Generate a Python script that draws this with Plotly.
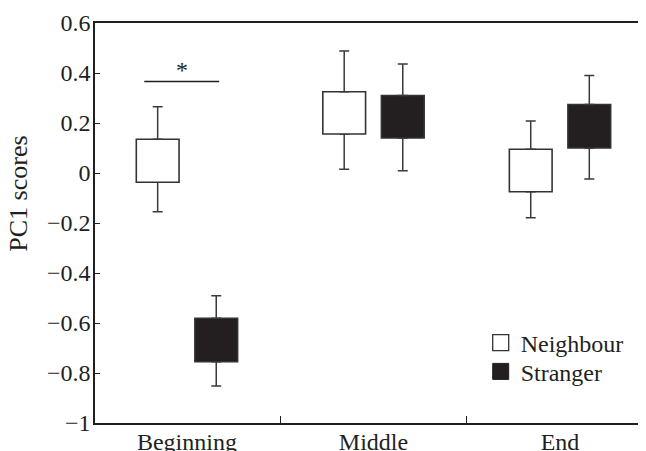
import plotly.graph_objects as go

phases = ["Beginning", "Middle", "End"]

neighbour_box_low = [-0.037, 0.156, -0.075]
neighbour_box_high = [0.135, 0.325, 0.095]
neighbour_whisker_low = [-0.155, 0.015, -0.179]
neighbour_whisker_high = [0.265, 0.488, 0.208]

stranger_box_low = [-0.755, 0.140, 0.100]
stranger_box_high = [-0.581, 0.310, 0.274]
stranger_whisker_low = [-0.852, 0.009, -0.024]
stranger_whisker_high = [-0.491, 0.436, 0.390]

y_tick_vals = [0.6, 0.4, 0.2, 0, -0.2, -0.4, -0.6, -0.8, -1]
y_tick_text = ["0.6", "0.4", "0.2", "0", "\u22120.2", "\u22120.4", "\u22120.6", "\u22120.8", "\u22121"]

sig_line_y = 0.366

DARK = "#231f20"
EDGE = "#333333"
WHISK = "#3a3a3a"
FONT = "Liberation Serif"


def add_series(name, low, high, wlow, whigh, fill, group):
    size = [h - l for l, h in zip(low, high)]
    up = [w - h for h, w in zip(high, whigh)]
    down = [l - w for l, w in zip(low, wlow)]
    zeros = [0 for _ in low]
    # invisible bar from box top down to box bottom, carrying the lower whisker
    fig.add_trace(go.Bar(
        x=phases, y=[-s for s in size], base=high, offsetgroup=group,
        marker=dict(color="rgba(0,0,0,0)", line=dict(width=0)),
        error_y=dict(type="data", symmetric=False, array=zeros, arrayminus=down,
                     color=WHISK, thickness=1.5, width=5),
        showlegend=False, hoverinfo="skip",
    ))
    # visible box carrying the upper whisker
    fig.add_trace(go.Bar(
        x=phases, y=size, base=low, offsetgroup=group, name=name,
        marker=dict(color=fill, line=dict(color=EDGE, width=1.6)),
        error_y=dict(type="data", symmetric=False, array=up, arrayminus=zeros,
                     color=WHISK, thickness=1.5, width=5),
        showlegend=False,
    ))


fig = go.Figure()
add_series("Neighbour", neighbour_box_low, neighbour_box_high,
           neighbour_whisker_low, neighbour_whisker_high, "white", "n")
add_series("Stranger", stranger_box_low, stranger_box_high,
           stranger_whisker_low, stranger_whisker_high, DARK, "s")

# legend entries (one legend each, to control the row spacing)
fig.add_trace(go.Scatter(
    x=[None], y=[None], mode="markers", name="Neighbour", legend="legend",
    marker=dict(symbol="square", size=16, color="white", line=dict(color=EDGE, width=1.3)),
))
fig.add_trace(go.Scatter(
    x=[None], y=[None], mode="markers", name="Stranger", legend="legend2",
    marker=dict(symbol="square", size=16, color=DARK, line=dict(color=DARK, width=1)),
))

fig.add_shape(type="line", xref="x", yref="y", x0=-0.229, x1=0.173,
              y0=sig_line_y, y1=sig_line_y, line=dict(color=DARK, width=1.6))
fig.add_annotation(x=-0.028, y=sig_line_y, xref="x", yref="y", text="*",
                   showarrow=False, yanchor="bottom", yshift=-3,
                   font=dict(family=FONT, size=24, color=DARK))

fig.add_annotation(x=(18.5 - 95) / 551, y=0.572, xref="paper", yref="paper",
                   xanchor="center", yanchor="middle", text="PC1 scores",
                   textangle=-90, showarrow=False,
                   font=dict(family=FONT, size=26, color=DARK))

legend_style = dict(xanchor="left", yanchor="middle", bgcolor="rgba(0,0,0,0)",
                    font=dict(family=FONT, size=24, color=DARK), itemsizing="trace")

# the page body has an 8 px margin, so the figure is drawn 8 px in from the top-left
fig.update_layout(
    template="none",
    width=638, height=443,
    margin=dict(l=87, r=0, t=15, b=28, autoexpand=False),
    paper_bgcolor="white", plot_bgcolor="white",
    barmode="group", bargap=0.372, bargroupgap=0.27,
    font=dict(family=FONT, size=24, color=DARK),
    showlegend=True,
    legend=dict(x=0.70, y=0.20, **legend_style),
    legend2=dict(x=0.70, y=0.128, **legend_style),
    xaxis=dict(
        type="category", range=[-0.493, 2.461], automargin=False,
        showline=True, linecolor=DARK, linewidth=1.5, mirror=True,
        ticks="inside", ticklen=7, tickcolor=DARK, tickwidth=1.3,
        tickson="boundaries", showgrid=False, zeroline=False,
        ticklabelstandoff=-4,
        tickfont=dict(family=FONT, size=24, color=DARK),
    ),
    yaxis=dict(
        range=[-1, 0.6], tickvals=y_tick_vals, ticktext=y_tick_text,
        automargin=False,
        showline=True, linecolor=DARK, linewidth=1.5,
        ticks="inside", ticklen=5, tickcolor=DARK, tickwidth=1.3,
        showgrid=False, zeroline=False, ticklabelstandoff=-2,
        tickfont=dict(family=FONT, size=24, color=DARK),
    ),
)

fig.write_html("out.html")
